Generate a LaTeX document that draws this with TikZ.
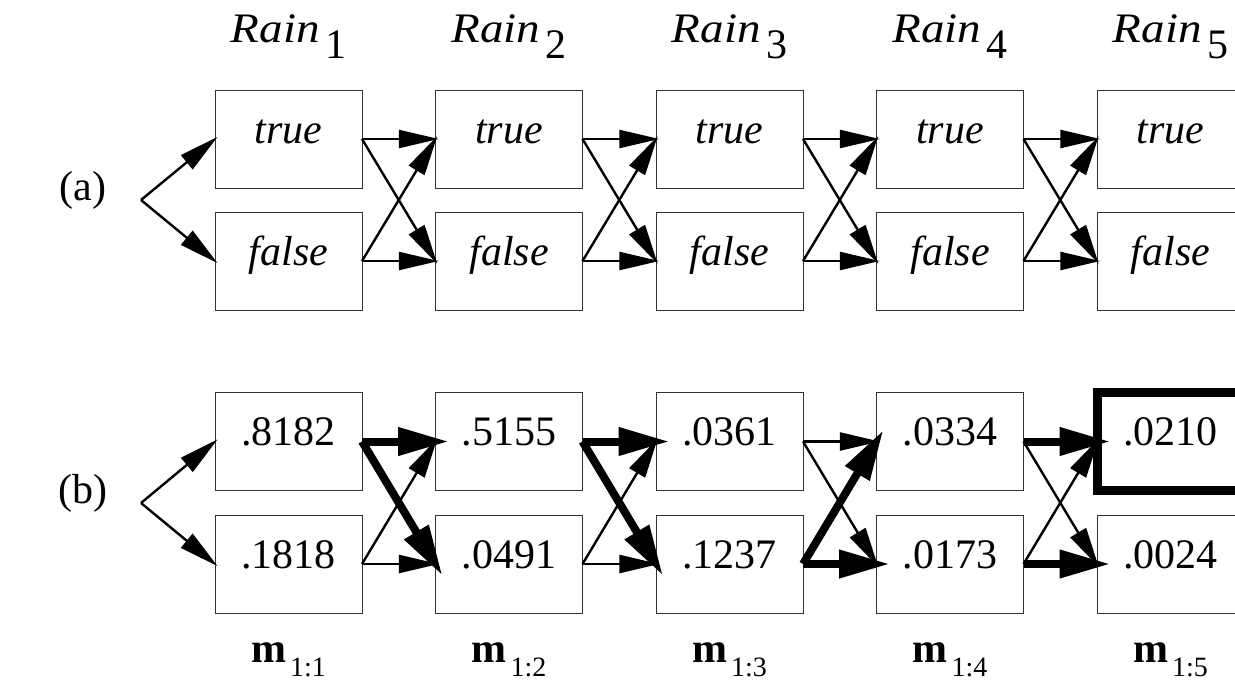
\documentclass[tikz,border=0pt]{standalone}
\usepackage{fontspec}
\setmainfont{Liberation Serif}
\usetikzlibrary{arrows.meta}
\tikzset{
  box/.style={draw=black!80, line width=0.75pt, minimum width=110.25pt, minimum height=73.5pt,
    outer sep=0pt, inner sep=0pt, text height=6pt, text depth=0pt, font=\fontsize{31.5}{36}\selectfont},
  hotbox/.style={box, draw=black, line width=6.75pt},
  thinarr/.style={line width=1.8pt, -{Triangle[length=30pt,width=13.5pt]}, shorten >=-2.5pt},
  thickarr/.style={line width=6pt, -{Triangle[length=38pt,width=20pt]}, shorten >=-10pt},
  lbl/.style={anchor=base, inner sep=0pt, font=\fontsize{31.5}{36}\selectfont}
}
\newcommand{\rainlab}[1]{\scalebox{1.12}[1]{\textit{Rain}}\hspace{4pt}\raisebox{-12pt}{#1}}
\newcommand{\mlab}[1]{\textbf{m}\hspace{3pt}\raisebox{-10.5pt}{\fontsize{21}{24}\selectfont #1}}
\begin{document}
\begin{tikzpicture}[x=0.75pt,y=-0.75pt]
\useasboundingbox (0,0) rectangle (1235,683);
\clip (0,0) rectangle (1235,683);
% column headers
\node[lbl] (r1) at (288.5,42) {\rainlab{1}};
\node[lbl] (r2) at (509,42) {\rainlab{2}};
\node[lbl] (r3) at (729.5,42) {\rainlab{3}};
\node[lbl] (r4) at (950,42) {\rainlab{4}};
\node[lbl] (r5) at (1170.5,42) {\rainlab{5}};
% part labels
\node[lbl] (la) at (83,200) {(a)};
\node[lbl] (lb) at (83,503) {(b)};
% (a) boxes
\node[box] (a1t) at (288.5,139) {\textit{true}};
\node[box] (a1f) at (288.5,261) {\textit{false}};
\node[box] (a2t) at (509,139) {\textit{true}};
\node[box] (a2f) at (509,261) {\textit{false}};
\node[box] (a3t) at (729.5,139) {\textit{true}};
\node[box] (a3f) at (729.5,261) {\textit{false}};
\node[box] (a4t) at (950,139) {\textit{true}};
\node[box] (a4f) at (950,261) {\textit{false}};
\node[box] (a5t) at (1170.5,139) {\textit{true}};
\node[box] (a5f) at (1170.5,261) {\textit{false}};
% (b) boxes
\node[box] (b1t) at (288.5,441.5) {.8182};
\node[box] (b1f) at (288.5,564) {.1818};
\node[box] (b2t) at (509,441.5) {.5155};
\node[box] (b2f) at (509,564) {.0491};
\node[box] (b3t) at (729.5,441.5) {.0361};
\node[box] (b3f) at (729.5,564) {.1237};
\node[box] (b4t) at (950,441.5) {.0334};
\node[box] (b4f) at (950,564) {.0173};
\node[hotbox] (b5t) at (1170.5,441.5) {.0210};
\node[box] (b5f) at (1170.5,564) {.0024};
% bottom labels
\node[lbl] (m1) at (288.5,662) {\mlab{1:1}};
\node[lbl] (m2) at (509,662) {\mlab{1:2}};
\node[lbl] (m3) at (729.5,662) {\mlab{1:3}};
\node[lbl] (m4) at (950,662) {\mlab{1:4}};
\node[lbl] (m5) at (1170.5,662) {\mlab{1:5}};
% forks
\coordinate (fa) at (141,200);
\coordinate (fb) at (141,503);
\draw[thinarr] (fa) -- (a1t.west);
\draw[thinarr] (fa) -- (a1f.west);
\draw[thinarr] (fb) -- (b1t.west);
\draw[thinarr] (fb) -- (b1f.west);
% (a) transitions
\foreach \i/\j in {1/2,2/3,3/4,4/5}{
  \draw[thinarr] (a\i t.east) -- (a\j t.west);
  \draw[thinarr] (a\i t.east) -- (a\j f.west);
  \draw[thinarr] (a\i f.east) -- (a\j t.west);
  \draw[thinarr] (a\i f.east) -- (a\j f.west);
}
% (b) thin transitions
\draw[thinarr] (b1f.east) -- (b2t.west);
\draw[thinarr] (b1f.east) -- (b2f.west);
\draw[thinarr] (b2f.east) -- (b3t.west);
\draw[thinarr] (b2f.east) -- (b3f.west);
\draw[thinarr] (b3t.east) -- (b4t.west);
\draw[thinarr] (b3t.east) -- (b4f.west);
\draw[thinarr] (b4t.east) -- (b5f.west);
\draw[thinarr] (b4f.east) -- (b5t.west);
% (b) thick transitions
\draw[thickarr] (b1t.east) -- (b2t.west);
\draw[thickarr] (b1t.east) -- (b2f.west);
\draw[thickarr] (b2t.east) -- (b3t.west);
\draw[thickarr] (b2t.east) -- (b3f.west);
\draw[thickarr] (b3f.east) -- (b4t.west);
\draw[thickarr] (b3f.east) -- (b4f.west);
\draw[thickarr] (b4t.east) -- (b5t.west);
\draw[thickarr] (b4f.east) -- (b5f.west);
\end{tikzpicture}
\end{document}
